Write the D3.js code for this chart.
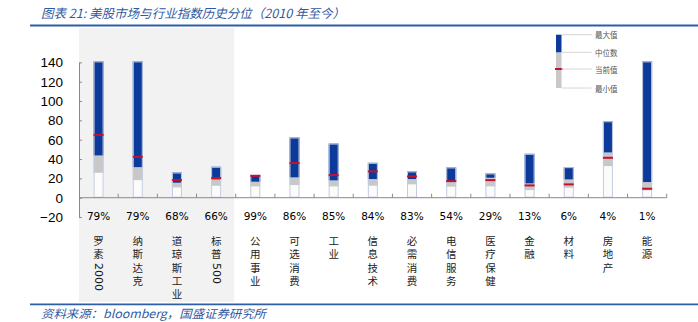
<!DOCTYPE html>
<html><head><meta charset="utf-8">
<script src="https://cdn.jsdelivr.net/npm/d3@7"></script>
<style>body{margin:0;background:#fff;} svg{display:block;}</style>
</head><body>
<svg id="c" width="698" height="322"></svg>
<script>
const categories = ["罗素2000","纳斯达克","道琼斯工业","标普500","公用事业","可选消费","工业","信息技术","必需消费","电信服务","医疗保健","金融","材料","房地产","能源"];
const percentiles = ["79%","79%","68%","66%","99%","86%","85%","84%","83%","54%","29%","13%","6%","4%","1%"];
const maxValues = [141,141,26.1,32,23.4,62.3,56,36.1,27.2,31.3,25.1,45.4,31.6,79.1,141];
const medianValues = [43.7,31.6,15.5,18.9,16.5,21,17.9,19.3,19.3,16.2,20.6,14.8,18.9,46.8,16.2];
const currentValues = [65,42.3,18.2,20.3,22.7,35.8,23.4,27.2,22,17.2,18.2,12.7,13.8,41.3,9.3];
const minValues = [25.8,18.2,10.7,12.4,11.7,13.1,11.7,12.4,13.8,11.4,11.7,7.9,10.3,32.7,7.6];
const yTicks = [-20,0,20,40,60,80,100,120,140];
const legendLabels = ["最大值","中位数","当前值","最小值"];
const titleText = "图表 21:  美股市场与行业指数历史分位（2010 年至今）";
const sourceText = "资料来源：bloomberg，国盛证券研究所";

const BLUE = "#0b3a9a", GRAY = "#c8c8c8", RED = "#c8102e", AXIS = "#8a8a8a";
const svg = d3.select("#c");
const x = d3.scaleBand().domain(categories).range([79, 666.7]);
const y = d3.scaleLinear().domain([-20, 140]).range([217.05, 62.35]);
const bw = 10;
const cx = c => x(c) + x.bandwidth() / 2;

// shaded index region
svg.append("rect").attr("x", 79).attr("y", 28)
  .attr("width", x(categories[4]) - 79 - 1.5).attr("height", 274).attr("fill", "#f2f2f2");

// title & source
svg.append("text").attr("x", 41).attr("y", 12.5).attr("dominant-baseline", "central")
  .attr("font-family", "Noto Sans CJK SC").attr("font-size", 12.5).attr("font-style", "italic")
  .attr("fill", "#2f5aa3").attr("textLength", 304).attr("lengthAdjust", "spacingAndGlyphs").text(titleText);
svg.append("line").attr("x1", 30).attr("x2", 698).attr("y1", 25.5).attr("y2", 25.5)
  .attr("stroke", "#2e5ea5").attr("stroke-width", 1.8);
svg.append("line").attr("x1", 30).attr("x2", 698).attr("y1", 304.3).attr("y2", 304.3)
  .attr("stroke", "#2e5ea5").attr("stroke-width", 1.8);
svg.append("text").attr("x", 41).attr("y", 312.5).attr("dominant-baseline", "central")
  .attr("font-family", "Noto Sans CJK SC").attr("font-size", 11.5).attr("font-style", "italic")
  .attr("fill", "#2f5aa3").attr("textLength", 225).attr("lengthAdjust", "spacingAndGlyphs").text(sourceText);

// y axis
const yAxis = d3.axisLeft(y).tickValues(yTicks).tickSizeInner(-3).tickSizeOuter(0).tickPadding(16).tickFormat(d3.format("d"));
const ga = svg.append("g").attr("transform", "translate(79,0)").call(yAxis);
ga.select(".domain").attr("stroke", AXIS);
ga.selectAll(".tick line").attr("stroke", AXIS);
ga.selectAll(".tick text").attr("font-family", "Liberation Sans, Arial").attr("font-size", 13.5).attr("fill", "#000");

// bars
const bars = svg.append("g").selectAll("g").data(categories).join("g");
bars.append("rect").attr("x", c => cx(c) - bw / 2).attr("width", bw)
  .attr("y", (c, i) => y(minValues[i])).attr("height", (c, i) => y(0) - y(minValues[i])).attr("fill", "#fbfbfb");
bars.append("rect").attr("x", c => cx(c) - bw / 2).attr("width", bw)
  .attr("y", (c, i) => y(medianValues[i])).attr("height", (c, i) => y(minValues[i]) - y(medianValues[i])).attr("fill", GRAY);
bars.append("rect").attr("x", c => cx(c) - bw / 2).attr("width", bw)
  .attr("y", (c, i) => y(maxValues[i])).attr("height", (c, i) => y(medianValues[i]) - y(maxValues[i])).attr("fill", BLUE);
bars.append("rect").attr("x", c => cx(c) - bw / 2 + 0.5).attr("width", bw - 1)
  .attr("y", (c, i) => y(maxValues[i]) + 0.5).attr("height", (c, i) => y(0) - y(maxValues[i]) - 1)
  .attr("fill", "none").attr("stroke", "#c3cce0").attr("stroke-width", 1);
bars.append("rect").attr("x", c => cx(c) - bw / 2).attr("width", bw)
  .attr("y", (c, i) => y(currentValues[i]) - 1).attr("height", 2).attr("fill", RED);

// x axis
svg.append("line").attr("x1", 79).attr("x2", 666.7).attr("y1", y(0)).attr("y2", y(0)).attr("stroke", AXIS);
svg.append("g").selectAll("line").data(categories).join("line")
  .attr("x1", c => x(c) + x.bandwidth()).attr("x2", c => x(c) + x.bandwidth())
  .attr("y1", y(0) - 4).attr("y2", y(0)).attr("stroke", AXIS);

// percent labels
svg.append("g").selectAll("text").data(categories).join("text")
  .attr("x", cx).attr("y", 216).attr("text-anchor", "middle").attr("dominant-baseline", "central")
  .attr("font-family", "DejaVu Sans").attr("font-size", 10.5).attr("fill", "#000")
  .text((c, i) => percentiles[i]);

// vertical category labels (one text per category, vertical writing mode)
const top0 = 236;
const cl = svg.append("g").selectAll("text").data(categories).join("text")
  .attr("x", cx).attr("y", top0)
  .style("writing-mode", "vertical-rl")
  .attr("font-family", "Noto Sans CJK SC").attr("font-size", 10.5).attr("fill", "#222")
  .style("letter-spacing", "2.8px");
cl.each(function(c) {
  const t = d3.select(this);
  (c.match(/[0-9A-Za-z]+|[^0-9A-Za-z]/g)).forEach(tok => {
    if (/^[0-9A-Za-z]+$/.test(tok)) {
      t.append("tspan").attr("font-family", "DejaVu Sans").attr("font-size", 11)
        .style("letter-spacing", "0px").attr("fill", "#111").text(tok);
    } else {
      t.append("tspan").text(tok);
    }
  });
});

// legend
const lx = 556, lw = 5.5;
const ly = [34.7, 52.3, 69, 88];
svg.append("rect").attr("x", lx).attr("y", ly[1]).attr("width", lw).attr("height", ly[3] - ly[1]).attr("fill", GRAY);
svg.append("rect").attr("x", lx).attr("y", ly[0]).attr("width", lw).attr("height", ly[1] - ly[0]).attr("fill", BLUE);
svg.append("rect").attr("x", lx - 1).attr("y", ly[2] - 1).attr("width", lw + 2).attr("height", 2).attr("fill", RED);
const lg = svg.append("g").selectAll("g").data(legendLabels).join("g");
lg.append("line").attr("x1", lx + lw).attr("x2", 591.7).attr("y1", (d, i) => ly[i]).attr("y2", (d, i) => ly[i])
  .attr("stroke", "#d6d6d6");
lg.append("text").attr("x", 595).attr("y", (d, i) => ly[i]).attr("dominant-baseline", "central")
  .attr("font-family", "Noto Sans CJK SC").attr("font-size", 7.5).attr("fill", "#555").text(d => d);
</script>
</body></html>
